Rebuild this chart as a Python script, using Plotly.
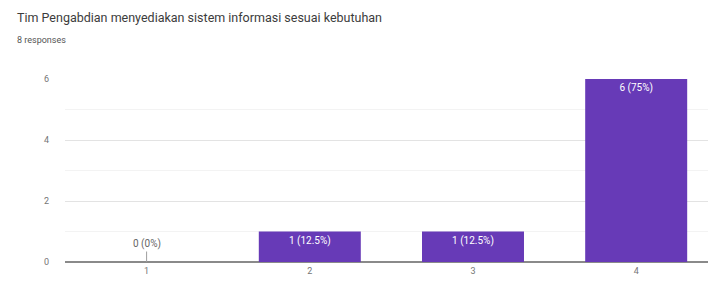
import plotly.graph_objects as go

categories = [1, 2, 3, 4]
counts = [0, 1, 1, 6]
tick_labels = ["1", "2", "3", "4"]
title_text = "Tim Pengabdian menyediakan sistem informasi sesuai kebutuhan"
subtitle_text = "8 responses"

total = sum(counts)
labels = [f"{v} ({v / total * 100:g}%)" for v in counts]
bar_labels = [l if v > 0 else "" for l, v in zip(labels, counts)]

fig = go.Figure()
fig.add_trace(go.Bar(
    x=categories, y=counts, width=0.625,
    marker=dict(color="#673ab7", line=dict(width=0)),
    text=bar_labels, textposition="inside", insidetextanchor="end",
    textfont=dict(color="white", size=10, family="Roboto"),
    cliponaxis=False, hoverinfo="skip",
))

for c, v, l in zip(categories, counts, labels):
    if v == 0:
        fig.add_annotation(x=c, y=v, text=l, showarrow=True, arrowhead=0,
                           arrowwidth=1, arrowcolor="#9e9e9e", ax=0, ay=-18,
                           font=dict(size=10, color="#666666", family="Roboto"))

fig.add_annotation(xref="paper", yref="paper", x=-50/643, y=1 + 62/183, xanchor="left",
                   yanchor="middle", text=title_text, showarrow=False,
                   font=dict(size=12.5, color="#3c3c3c", family="Roboto"))
fig.add_annotation(xref="paper", yref="paper", x=-50/643, y=1 + 39/183, xanchor="left",
                   yanchor="middle", text=subtitle_text, showarrow=False,
                   font=dict(size=9, color="#555555", family="Roboto"))

fig.update_layout(
    width=708, height=282,
    margin=dict(l=65, r=0, t=79, b=20),
    plot_bgcolor="white", paper_bgcolor="white",
    showlegend=False, bargap=0.375,
    font=dict(family="Roboto", size=9, color="#757575"),
    xaxis=dict(range=[0.5, 4.44], tickvals=categories, ticktext=tick_labels,
               showgrid=False, zeroline=False, showline=False, ticks="",
               tickfont=dict(size=9, color="#757575"), ticklabelstandoff=2),
    yaxis=dict(range=[0, 6], dtick=2, showgrid=True, gridcolor="#e3e3e3",
               zeroline=True, zerolinecolor="#8a8a8a", zerolinewidth=1.5,
               showline=False, ticks="", tickfont=dict(size=9, color="#757575"),
               ticklabelstandoff=15,
               minor=dict(dtick=1, showgrid=True, gridcolor="#f3f3f3")),
)

fig.write_html("out.html", config={"displayModeBar": False},
               post_script="document.body.style.margin='0';")
